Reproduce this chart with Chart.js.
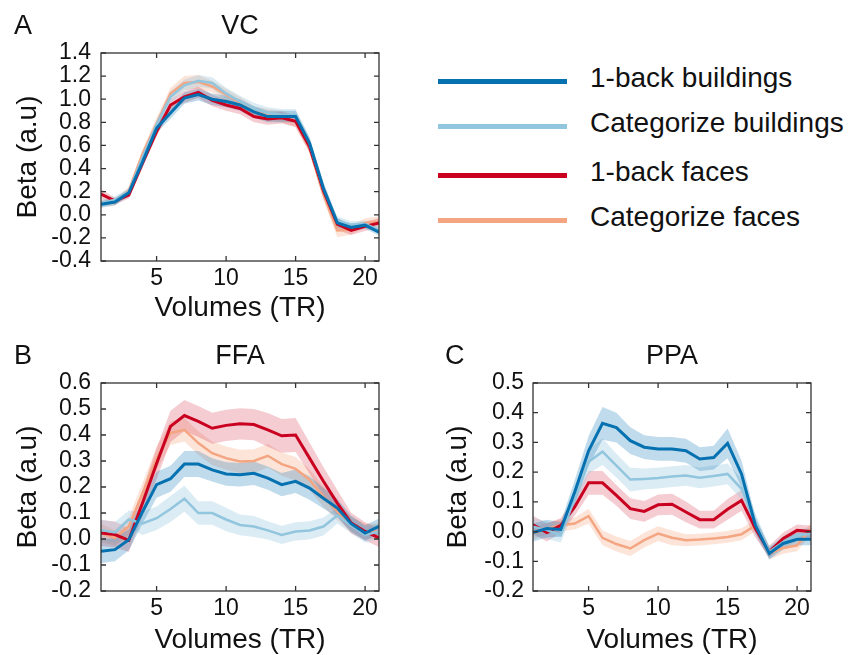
<!DOCTYPE html>
<html>
<head>
<meta charset="utf-8">
<title>VC / FFA / PPA time courses</title>
<script src="https://cdn.jsdelivr.net/npm/chart.js@4.4.1/dist/chart.umd.min.js"></script>
<style>
  body { margin: 0; background: #fff; width: 848px; height: 655px; overflow: hidden; position: relative;
         font-family: "Liberation Sans", Arial, sans-serif; color: #111; }
  canvas { position: absolute; }
  #panelA { left: 0; top: 0; }
  #panelB { left: 0; top: 330px; }
  #panelC { left: 420px; top: 330px; }
  .legend-line { position: absolute; left: 438px; width: 129px; height: 5px; }
  .legend-text { position: absolute; left: 590px; font-size: 28px; line-height: 34px; white-space: nowrap; }
</style>
</head>
<body>
<canvas id="panelA" width="420" height="330"></canvas>
<canvas id="panelB" width="420" height="330"></canvas>
<canvas id="panelC" width="428" height="330"></canvas>
<div id="legend"></div>
<script>
// x axis: volumes (TR)
const volumes = [1, 2, 3, 4, 5, 6, 7, 8, 9, 10, 11, 12, 13, 14, 15, 16, 17, 18, 19, 20, 21];
const xTicks = [5, 10, 15, 20];

const seriesNames = ['1-back buildings', 'Categorize buildings', '1-back faces', 'Categorize faces'];
const seriesColors = ['#0571b0', '#92c5de', '#ca0020', '#f4a582'];
const bandColors = ['rgba(5,113,176,0.25)', 'rgba(146,197,222,0.32)', 'rgba(202,0,32,0.2)', 'rgba(244,165,130,0.3)'];

// VC
const vcTicks = [-0.4, -0.2, 0.0, 0.2, 0.4, 0.6, 0.8, 1.0, 1.2, 1.4];
const vcOneBackBuildings = [0.09, 0.11, 0.19, 0.46, 0.75, 0.88, 1.01, 1.04, 1.00, 0.98, 0.95, 0.89, 0.85, 0.85, 0.85, 0.62, 0.23, -0.07, -0.11, -0.09, -0.15];
const vcCatBuildings = [0.10, 0.13, 0.20, 0.50, 0.78, 1.02, 1.12, 1.16, 1.14, 1.05, 0.98, 0.92, 0.88, 0.865, 0.865, 0.62, 0.23, -0.055, -0.085, -0.08, -0.13];
const vcOneBackFaces = [0.18, 0.12, 0.17, 0.45, 0.72, 0.95, 1.02, 1.06, 0.99, 0.95, 0.92, 0.85, 0.83, 0.84, 0.81, 0.59, 0.21, -0.08, -0.135, -0.10, -0.07];
const vcCatFaces = [0.10, 0.11, 0.21, 0.53, 0.79, 1.05, 1.14, 1.15, 1.11, 1.04, 0.97, 0.89, 0.865, 0.85, 0.81, 0.58, 0.175, -0.135, -0.13, -0.07, -0.055];
const vcErrOneBackBuildings = [0.03, 0.03, 0.03, 0.04, 0.04, 0.05, 0.05, 0.05, 0.05, 0.05, 0.05, 0.05, 0.05, 0.05, 0.05, 0.05, 0.05, 0.04, 0.03, 0.03, 0.03];
const vcErrCatBuildings = [0.03, 0.03, 0.03, 0.04, 0.04, 0.05, 0.05, 0.05, 0.05, 0.05, 0.05, 0.05, 0.05, 0.05, 0.05, 0.05, 0.05, 0.04, 0.03, 0.03, 0.03];
const vcErrOneBackFaces = [0.04, 0.03, 0.03, 0.04, 0.04, 0.05, 0.05, 0.05, 0.05, 0.05, 0.05, 0.05, 0.05, 0.05, 0.05, 0.05, 0.05, 0.05, 0.04, 0.04, 0.04];
const vcErrCatFaces = [0.03, 0.03, 0.03, 0.04, 0.05, 0.05, 0.06, 0.06, 0.05, 0.05, 0.05, 0.05, 0.05, 0.05, 0.05, 0.05, 0.05, 0.06, 0.04, 0.04, 0.04];

// FFA
const ffaTicks = [-0.2, -0.1, 0.0, 0.1, 0.2, 0.3, 0.4, 0.5, 0.6];
const ffaOneBackBuildings = [-0.047, -0.041, -0.003, 0.106, 0.209, 0.232, 0.288, 0.288, 0.266, 0.25, 0.247, 0.253, 0.234, 0.209, 0.222, 0.196, 0.157, 0.119, 0.059, 0.023, 0.049];
const ffaCatBuildings = [0.035, 0.025, 0.075, 0.06, 0.08, 0.115, 0.155, 0.10, 0.10, 0.075, 0.054, 0.048, 0.033, 0.016, 0.029, 0.033, 0.048, 0.09, 0.052, 0.016, 0.029];
const ffaOneBackFaces = [0.023, 0.017, -0.005, 0.14, 0.29, 0.433, 0.475, 0.452, 0.426, 0.437, 0.443, 0.44, 0.42, 0.397, 0.40, 0.311, 0.222, 0.138, 0.061, 0.029, 0.004];
const ffaCatFaces = [0.023, 0.004, 0.049, 0.177, 0.31, 0.407, 0.42, 0.369, 0.33, 0.311, 0.298, 0.30, 0.32, 0.288, 0.27, 0.228, 0.164, 0.106, 0.055, 0.029, 0.03];
const ffaErrOneBackBuildings = [0.045, 0.045, 0.04, 0.045, 0.05, 0.05, 0.05, 0.05, 0.045, 0.045, 0.045, 0.045, 0.045, 0.045, 0.045, 0.045, 0.04, 0.035, 0.03, 0.03, 0.03];
const ffaErrCatBuildings = [0.04, 0.04, 0.035, 0.045, 0.045, 0.05, 0.05, 0.045, 0.045, 0.045, 0.04, 0.04, 0.035, 0.035, 0.035, 0.035, 0.035, 0.03, 0.03, 0.03, 0.03];
const ffaErrOneBackFaces = [0.05, 0.05, 0.045, 0.05, 0.06, 0.06, 0.06, 0.06, 0.06, 0.06, 0.06, 0.06, 0.065, 0.065, 0.065, 0.06, 0.055, 0.05, 0.04, 0.035, 0.035];
const ffaErrCatFaces = [0.035, 0.03, 0.035, 0.04, 0.045, 0.045, 0.045, 0.045, 0.045, 0.045, 0.045, 0.045, 0.045, 0.045, 0.045, 0.04, 0.04, 0.035, 0.03, 0.03, 0.03];

// PPA
const ppaTicks = [-0.2, -0.1, 0.0, 0.1, 0.2, 0.3, 0.4, 0.5];
const ppaOneBackBuildings = [-0.003, 0.01, 0.007, 0.133, 0.272, 0.364, 0.35, 0.306, 0.284, 0.278, 0.278, 0.272, 0.244, 0.249, 0.297, 0.194, 0.021, -0.074, -0.04, -0.026, -0.026];
const ppaCatBuildings = [0.016, 0.005, -0.012, 0.11, 0.235, 0.269, 0.222, 0.175, 0.177, 0.18, 0.185, 0.189, 0.181, 0.187, 0.194, 0.144, 0.032, -0.068, -0.035, -0.012, -0.007];
const ppaOneBackFaces = [0.023, -0.003, 0.021, 0.083, 0.164, 0.164, 0.122, 0.077, 0.068, 0.09, 0.092, 0.066, 0.04, 0.04, 0.075, 0.105, 0.01, -0.068, -0.023, 0.004, 0.0];
const ppaCatFaces = [-0.007, 0.01, 0.021, 0.027, 0.052, -0.021, -0.042, -0.057, -0.029, -0.007, -0.021, -0.029, -0.027, -0.023, -0.018, -0.009, 0.021, -0.074, -0.055, -0.046, 0.01];
const ppaErrOneBackBuildings = [0.03, 0.03, 0.025, 0.04, 0.05, 0.055, 0.05, 0.045, 0.04, 0.04, 0.04, 0.04, 0.04, 0.04, 0.05, 0.045, 0.03, 0.02, 0.02, 0.02, 0.02];
const ppaErrCatBuildings = [0.03, 0.03, 0.025, 0.035, 0.04, 0.045, 0.04, 0.04, 0.035, 0.035, 0.035, 0.035, 0.035, 0.035, 0.035, 0.035, 0.03, 0.02, 0.02, 0.02, 0.02];
const ppaErrOneBackFaces = [0.03, 0.03, 0.025, 0.03, 0.04, 0.04, 0.035, 0.035, 0.035, 0.035, 0.035, 0.035, 0.03, 0.03, 0.035, 0.035, 0.03, 0.02, 0.02, 0.02, 0.02];
const ppaErrCatFaces = [0.02, 0.02, 0.02, 0.02, 0.025, 0.025, 0.025, 0.025, 0.025, 0.025, 0.025, 0.02, 0.02, 0.02, 0.02, 0.02, 0.02, 0.02, 0.02, 0.02, 0.02];

Chart.defaults.font.family = '"Liberation Sans", Arial, sans-serif';
Chart.defaults.color = '#111';

// box around the plot + inward ticks on all four sides (old matplotlib look)
const frameTicks = {
  id: 'frameTicks',
  afterDatasetsDraw(chart) {
    const { ctx, chartArea: a, scales: { x, y } } = chart;
    ctx.save();
    ctx.strokeStyle = '#333';
    ctx.lineWidth = 1.3;
    ctx.strokeRect(a.left, a.top, a.right - a.left, a.bottom - a.top);
    ctx.beginPath();
    x.ticks.forEach(t => {
      const px = x.getPixelForValue(t.value);
      ctx.moveTo(px, a.bottom); ctx.lineTo(px, a.bottom - 5);
      ctx.moveTo(px, a.top); ctx.lineTo(px, a.top + 5);
    });
    y.ticks.forEach(t => {
      const py = y.getPixelForValue(t.value);
      ctx.moveTo(a.left, py); ctx.lineTo(a.left + 5, py);
      ctx.moveTo(a.right, py); ctx.lineTo(a.right - 5, py);
    });
    ctx.stroke();
    ctx.restore();
  }
};

const panelText = {
  id: 'panelText',
  afterDraw(chart, args, opts) {
    const { ctx, chartArea: a } = chart;
    ctx.save();
    ctx.font = '27px "Liberation Sans", Arial, sans-serif';
    ctx.fillStyle = '#111';
    ctx.textBaseline = 'middle';
    ctx.textAlign = 'left';
    ctx.fillText(opts.letter, opts.letterX, 27);
    ctx.textAlign = 'center';
    ctx.fillText(opts.title, (a.left + a.right) / 2, 27);
    ctx.restore();
  }
};

function buildDatasets(means, errs) {
  const lines = [];
  const bands = [];
  means.forEach((m, i) => {
    lines.push({
      data: m.map((v, k) => ({ x: volumes[k], y: v })),
      borderColor: seriesColors[i],
      borderWidth: i % 2 === 0 ? 3 : 2.5,
      pointRadius: 0,
      tension: 0,
      fill: false
    });
    bands.push({
      data: m.map((v, k) => ({ x: volumes[k], y: v + errs[i][k] })),
      borderWidth: 0, borderColor: 'transparent', pointRadius: 0,
      backgroundColor: bandColors[i],
      fill: '+1'
    });
    bands.push({
      data: m.map((v, k) => ({ x: volumes[k], y: v - errs[i][k] })),
      borderWidth: 0, borderColor: 'transparent', pointRadius: 0,
      fill: false
    });
  });
  return lines.concat(bands);
}

function makePanel(id, means, errs, yTicks, letter, title, g) {
  new Chart(document.getElementById(id), {
    type: 'line',
    data: { datasets: buildDatasets(means, errs) },
    options: {
      responsive: false,
      animation: false,
      devicePixelRatio: 1,
      layout: { padding: { left: 0, top: 53, right: g.right, bottom: 0 } },
      plugins: {
        legend: { display: false },
        tooltip: { enabled: false },
        filler: { drawTime: 'beforeDatasetsDraw' },
        panelText: { letter: letter, title: title, letterX: g.letterX }
      },
      scales: {
        x: {
          type: 'linear',
          min: 1, max: 21,
          afterBuildTicks: s => { s.ticks = xTicks.map(v => ({ value: v })); },
          afterFit: s => { s.height = 69; },
          grid: { display: false, drawTicks: false },
          border: { display: false },
          ticks: { autoSkip: false, maxRotation: 0, padding: 4, font: { size: 23 }, color: '#111', callback: v => String(v) },
          title: { display: true, text: 'Volumes (TR)', font: { size: 28 }, color: '#111', padding: { top: 0, bottom: g.xTitlePad } }
        },
        y: {
          min: yTicks[0], max: yTicks[yTicks.length - 1],
          afterBuildTicks: s => { s.ticks = yTicks.map(v => ({ value: v })); },
          afterFit: s => { s.width = g.left; },
          grid: { display: false, drawTicks: false },
          border: { display: false },
          ticks: { autoSkip: false, padding: g.yTickPad, font: { size: 23 }, color: '#111', callback: v => v.toFixed(1) },
          title: { display: true, text: 'Beta (a.u)', font: { size: 28 }, color: '#111', padding: { top: g.yTitlePad, bottom: 0 } }
        }
      }
    },
    plugins: [frameTicks, panelText]
  });
}

makePanel('panelA',
  [vcOneBackBuildings, vcCatBuildings, vcOneBackFaces, vcCatFaces],
  [vcErrOneBackBuildings, vcErrCatBuildings, vcErrOneBackFaces, vcErrCatFaces],
  vcTicks, 'A', 'VC',
  { left: 101, right: 41, letterX: 14, xTitlePad: 5, yTickPad: 10, yTitlePad: 11 });

makePanel('panelB',
  [ffaOneBackBuildings, ffaCatBuildings, ffaOneBackFaces, ffaCatFaces],
  [ffaErrOneBackBuildings, ffaErrCatBuildings, ffaErrOneBackFaces, ffaErrCatFaces],
  ffaTicks, 'B', 'FFA',
  { left: 101, right: 41, letterX: 14, xTitlePad: 3, yTickPad: 10, yTitlePad: 11 });

makePanel('panelC',
  [ppaOneBackBuildings, ppaCatBuildings, ppaOneBackFaces, ppaCatFaces],
  [ppaErrOneBackBuildings, ppaErrCatBuildings, ppaErrOneBackFaces, ppaErrCatFaces],
  ppaTicks, 'C', 'PPA',
  { left: 113, right: 37, letterX: 25, xTitlePad: 3, yTickPad: 9, yTitlePad: 21 });

// legend (top right)
const legendRowsY = [81, 126, 175, 220];
const legend = document.getElementById('legend');
seriesNames.forEach((name, i) => {
  const line = document.createElement('div');
  line.className = 'legend-line';
  line.style.top = (legendRowsY[i] - 2.5) + 'px';
  line.style.background = seriesColors[i];
  legend.appendChild(line);
  const txt = document.createElement('div');
  txt.className = 'legend-text';
  txt.style.top = (legendRowsY[i] - 20) + 'px';
  txt.textContent = name;
  legend.appendChild(txt);
});
</script>
</body>
</html>
